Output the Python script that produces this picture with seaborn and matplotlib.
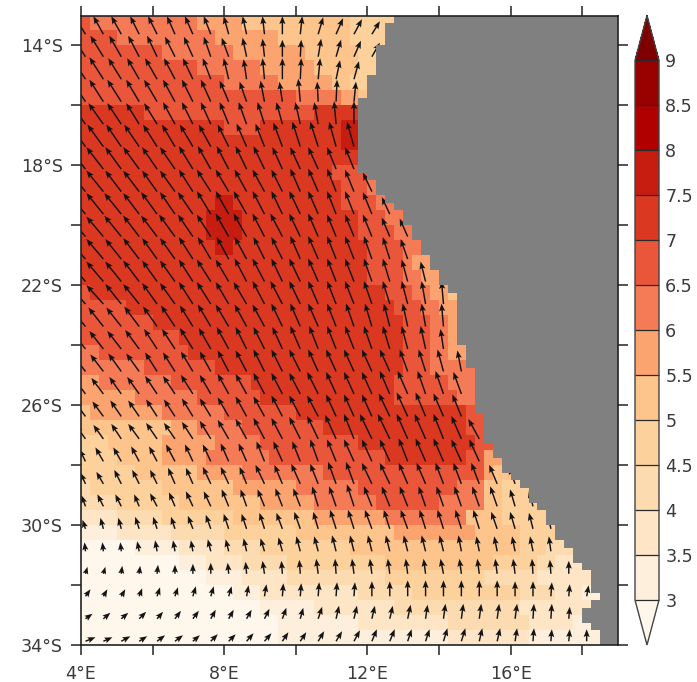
import numpy as np
import pandas as pd
import seaborn as sns
import matplotlib
matplotlib.use("Agg")
import matplotlib.pyplot as plt
from matplotlib.colors import ListedColormap, BoundaryNorm
from matplotlib.cm import ScalarMappable

W, H = 697, 682
LEVELS = [3, 3.5, 4, 4.5, 5, 5.5, 6, 6.5, 7, 7.5, 8, 8.5, 9]
LEVEL_LABELS = ["3", "3.5", "4", "4.5", "5", "5.5", "6", "6.5", "7", "7.5", "8", "8.5", "9"]
COLORS = ["#FEEEDC", "#FDE5C5", "#FDDBB0", "#FDD19C", "#FDC48C", "#FBA46F",
          "#F47B55", "#E9563A", "#DB3822", "#C71C10", "#B10000", "#990000"]
UNDER = "#FFF7EC"
OVER = "#7F0000"
CLASS_VALUE = {"a": 2.75, "b": 3.25, "c": 3.75, "d": 4.25, "e": 4.75, "f": 5.25,
               "g": 5.75, "h": 6.25, "i": 6.75, "j": 7.25, "k": 7.75}

# class letter + last 0.25-degree longitude column, rows every 0.5 degree from 13S
FIELD_ROWS = [
    "i1 h13 g18 f30 e36", "i4 h15 g22 f30 e34", "i9 h17 g25 f31 e33", "i13 h20 g26 f31 e33",
    "i16 h22 g28 f30 e32", "i24 h29 g31 f32", "j7 i26 j32", "j16 i20 j29 k31",
    "j29 k31", "j31", "j28 i32", "j29 i32 h34",
    "j15 k17 j29 i33 h35", "j14 k18 j31 i34 h36 g37", "j14 k18 j31 i35 h37 g38",
    "j15 k17 j32 i36 h38 g39", "j32 i36 h37 g39", "j32 i36 h38 g40 f41",
    "i1 j34 i37 h39 g41 f42", "i5 j35 i38 h40 g42", "i8 j36 i39 h41 g42",
    "i11 j36 i39 h41 g42", "h2 i12 j36 i39 h41 g43", "h7 i15 j36 i39 h43",
    "g2 h10 i19 j35 i41 h44", "g6 h13 i20 j35 i42 h44", "f1 g9 h16 i24 j43 i44",
    "f10 g13 h18 i27 j43 i45", "e3 f9 g15 h20 i31 j44 i45", "e4 f9 g14 h21 i34 j43 i45 g46",
    "e6 f13 g18 h27 i45 g46 f47", "d1 e9 f17 g24 h31 i42 h45 f47 e50",
    "d4 e11 f20 g26 h33 i40 h45 f47 e51", "c4 d9 e17 f26 g34 h43 f47 e52",
    "b4 c10 d16 e24 f35 g44 f49 e53", "a6 b11 c16 d20 e30 f49 e52 d54",
    "a11 b14 c18 d23 e34 f46 e51 d53 c56", "a14 b18 c23 d34 e45 d51 c57",
    "a17 b20 c31 d37 e49 d53 c56 b58", "a20 b26 c35 d49 c55",
    "a22 b31 c41 d50 c55 b57", "a22 b41 c50 b58",
]

# first land column in each 0.25-degree latitude row, from 13S to 34S
COAST_COL = [35, 34, 34, 34, 33, 33, 33, 33, 32, 32, 32, 31, 31, 31, 31, 31, 31, 31, 31, 31, 31,
             32, 33, 33, 34, 35, 36, 36, 37, 37, 38, 38, 39, 39, 40, 40, 41, 42, 42, 42, 42, 42,
             42, 42, 43, 43, 43, 44, 44, 44, 44, 44, 44, 45, 45, 45, 45, 46, 46, 47, 47, 48, 49,
             50, 50, 51, 52, 52, 53, 53, 54, 55, 55, 56, 57, 57, 57, 58, 57, 56, 56, 57, 58, 58]

# wind components per arrow row (north to south), columns every 0.5 degree from 4.125E
U_ROWS = [
    [-11,-10,-10,-9,-9,-8,-8,-7,-5,-4,-2,0,2,5,7,8,8],
    [-14,-13,-12,-11,-10,-10,-9,-7,-7,-4,-2,0,1,3,5,7,8],
    [-15,-14,-13,-12,-12,-11,-10,-8,-5,-3,-2,0,1,2,4,5],
    [-15,-14,-14,-13,-13,-12,-11,-10,-9,-7,-4,-3,-2,-1,1,2],
    [-16,-15,-14,-13,-13,-12,-11,-10,-9,-8,-7,-6,-5,-4,-2,0],
    [-16,-16,-15,-15,-14,-13,-13,-12,-11,-10,-9,-9,-8,-8,-7,-7],
    [-17,-17,-16,-16,-15,-15,-14,-13,-12,-11,-11,-10,-10,-10,-9,-9],
    [-17,-17,-16,-16,-15,-15,-14,-14,-13,-12,-12,-11,-10,-10,-9,-9,-9],
    [-18,-17,-17,-16,-16,-15,-15,-14,-13,-13,-12,-11,-11,-10,-9,-9,-9,-8],
    [-17,-17,-17,-16,-16,-16,-15,-14,-13,-13,-12,-12,-11,-10,-9,-9,-9,-8,-8],
    [-17,-17,-16,-16,-15,-15,-14,-13,-12,-12,-11,-11,-10,-10,-9,-9,-8,-7,-7],
    [-17,-17,-16,-16,-15,-15,-14,-14,-13,-12,-12,-11,-11,-10,-9,-9,-8,-7,-6,-5],
    [-17,-17,-16,-16,-15,-15,-14,-14,-13,-13,-12,-12,-11,-10,-9,-9,-8,-7,-6,-4,-2],
    [-15,-15,-15,-15,-14,-14,-13,-13,-13,-12,-12,-11,-10,-10,-9,-8,-7,-6,-5,-4,-2],
    [-14,-14,-14,-14,-13,-13,-13,-12,-12,-11,-11,-10,-10,-9,-9,-9,-8,-7,-6,-5,-3],
    [-13,-13,-13,-13,-12,-12,-12,-11,-11,-11,-11,-11,-11,-10,-10,-10,-10,-10,-8,-7,-6,-4],
    [-12,-12,-12,-12,-12,-12,-12,-11,-11,-11,-11,-11,-11,-11,-10,-10,-10,-10,-10,-8,-8,-8],
    [-11,-11,-11,-11,-11,-11,-11,-11,-11,-11,-11,-11,-11,-11,-10,-10,-10,-11,-11,-10,-10,-9],
    [-10,-10,-10,-11,-11,-11,-11,-11,-11,-11,-11,-11,-11,-11,-11,-10,-12,-12,-11,-11,-10,-10,-11],
    [-6,-8,-8,-8,-8,-9,-8,-8,-8,-8,-8,-9,-8,-8,-9,-10,-10,-10,-9,-10,-10,-10,-10],
    [-5,-7,-7,-7,-7,-7,-7,-8,-8,-7,-9,-8,-9,-8,-8,-8,-10,-10,-9,-9,-8,-8,-8,-8,-6],
    [-4,-6,-6,-5,-7,-6,-7,-7,-7,-6,-7,-7,-7,-6,-7,-7,-8,-8,-8,-7,-7,-7,-7,-7,-5,-4],
    [-3,-3,-3,-4,-4,-4,-5,-5,-5,-5,-5,-6,-6,-5,-6,-6,-7,-6,-7,-6,-6,-6,-6,-6,-5,-4,-3],
    [-1,-1,-1,-2,-2,-2,-2,-3,-3,-3,-4,-4,-4,-4,-4,-4,-4,-4,-4,-4,-4,-3,-3,-3,-3,-3,-2],
    [2,2,1,1,1,0,0,0,-1,-1,-2,-1,-1,-2,-1,-2,-2,-2,-2,-2,-3,-2,-2,-2,-2,-1,-1,0],
    [5,4,4,3,3,3,3,3,3,2,2,1,1,1,1,1,0,0,0,0,0,0,0,0,0,0,1,1,2],
    [7,7,7,7,6,6,6,5,5,5,5,4,3,4,3,3,3,3,3,2,2,2,2,2,2,1,1,1],
    [10,9,9,8,8,8,7,7,7,7,7,6,6,6,6,6,5,5,4,4,4,4,3,3,2,1,1,1,0],
]
V_ROWS = [
    [18,18,18,18,18,18,18,18,18,18,18,18,18,17,16,15,13],
    [22,21,21,21,21,20,20,20,19,19,18,17,17,18,17,16,14],
    [23,22,21,21,21,21,21,21,21,20,21,21,21,21,19,18],
    [23,22,22,22,22,22,22,22,21,20,21,20,23,20,22,20],
    [22,21,21,21,21,22,22,22,22,22,22,22,22,22,23,23],
    [22,22,22,22,22,22,22,22,22,23,23,24,25,25,25,25],
    [22,22,22,22,22,22,23,23,23,23,23,22,22,22,22,22],
    [21,21,21,21,21,21,22,22,22,22,22,22,23,23,23,22,19],
    [21,21,21,21,22,22,22,23,23,23,23,23,23,23,23,23,22,17],
    [20,20,21,21,21,22,22,22,23,23,23,23,23,23,22,22,22,19,18],
    [19,20,20,21,21,21,22,22,22,22,22,22,23,23,23,23,23,22,20],
    [20,20,20,21,21,21,22,22,22,23,23,23,23,23,23,23,23,23,22,20],
    [19,19,20,20,21,21,22,22,22,22,23,23,23,23,23,23,23,23,23,23,23],
    [18,19,19,20,20,21,21,22,22,22,22,23,23,23,23,23,23,23,23,23,23],
    [18,18,18,19,20,20,21,21,22,22,22,22,23,23,23,23,23,23,23,23,20],
    [17,17,18,18,19,19,20,20,21,21,22,22,22,22,22,22,22,22,22,22,22,21],
    [16,16,17,17,18,18,19,19,20,20,21,21,21,22,22,22,22,23,23,23,23,22],
    [15,15,16,16,17,17,18,18,19,20,20,21,21,21,22,22,22,23,24,24,23,22],
    [14,14,15,15,16,16,17,18,19,20,21,21,22,23,24,25,25,25,25,25,25,23,20],
    [12,14,14,15,15,17,17,17,18,18,20,20,20,22,22,22,22,22,23,23,23,22,22],
    [11,12,14,14,14,16,16,17,17,17,19,19,20,20,22,22,21,21,21,21,21,21,21,19,17],
    [11,12,12,12,13,14,15,15,17,17,17,18,18,20,20,22,20,20,20,20,20,20,20,20,17,16],
    [9,11,11,12,12,12,13,14,15,15,16,16,17,17,19,19,19,19,19,19,19,19,19,17,17,16,15],
    [9,9,9,10,11,11,11,12,12,13,13,14,15,15,16,16,16,16,16,16,16,16,15,15,15,15,15],
    [7,7,8,8,9,9,10,11,11,12,13,13,14,15,15,15,15,15,15,15,15,15,15,15,15,15,14,13],
    [7,7,7,8,9,9,10,10,10,11,12,13,13,14,14,14,15,15,16,16,16,16,16,16,15,15,14,12,11],
    [5,6,6,7,7,8,8,9,9,9,10,11,11,12,13,13,13,13,14,14,15,15,15,15,15,15,15,12],
    [4,4,5,5,6,6,6,7,7,8,8,9,9,10,10,11,12,12,12,12,13,13,13,13,13,13,12,12,12],
]
X_TICKS = [4, 6, 8, 10, 12, 14, 16, 18]
X_LABELS = ["4°E", "", "8°E", "", "12°E", "", "16°E", ""]
Y_TICKS = [14, 16, 18, 20, 22, 24, 26, 28, 30, 32, 34]
Y_LABELS = ["14°S", "", "18°S", "", "22°S", "", "26°S", "", "30°S", "", "34°S"]

# ---- build the gridded tables from the values above
ncol, nrow = 60, 84
field = np.zeros((nrow, ncol))
for r, text in enumerate(FIELD_ROWS):
    start = 0
    vals = np.zeros(ncol)
    for tok in text.split():
        end = int(tok[1:])
        vals[start:end] = CLASS_VALUE[tok[0]]
        last = CLASS_VALUE[tok[0]]
        start = end
    vals[start:] = last
    field[2 * r] = vals
    field[2 * r + 1] = vals
land = np.zeros((nrow, ncol), dtype=bool)
for r, c in enumerate(COAST_COL):
    land[r, c:] = True

lons = 4 + 0.25 * np.arange(ncol)
lats = -13 - 0.25 * np.arange(nrow)
df_field = pd.DataFrame(field, index=lats, columns=lons)
df_land = pd.DataFrame(land.astype(float), index=lats, columns=lons)

recs = []
for t, (us, vs) in enumerate(zip(U_ROWS, V_ROWS)):
    for k, (u, v) in enumerate(zip(us, vs)):
        recs.append((4.125 + 0.5 * k, -13.625 - 0.75 * t, u, v))
arrows = pd.DataFrame(recs, columns=["lon", "lat", "u", "v"])

# ---- figure
sns.set_theme(style="white")
plt.rcParams["font.family"] = ["DejaVu Sans"]
INK = "#222222"
TXT = "#3a3a3a"
FS = 12.6

fig = plt.figure(figsize=(W / 100, H / 100), dpi=100, facecolor="white")
ax = fig.add_axes([81 / W, 1 - 645 / H, (618 - 81) / W, (645 - 15.5) / H])
cmap = ListedColormap(COLORS)
cmap.set_under(UNDER)
cmap.set_over(OVER)
norm = BoundaryNorm(LEVELS, cmap.N)

sns.heatmap(df_field, ax=ax, cmap=cmap, norm=norm, cbar=False,
            xticklabels=False, yticklabels=False)
ax.quiver((arrows.lon - 4) * 4, (-13 - arrows.lat) * 4, arrows.u, arrows.v,
          angles="uv", scale_units="dots", scale=1, units="dots", pivot="tail",
          width=1.45, headwidth=4.2, headlength=5.4, headaxislength=4.6,
          color="#141414", zorder=2)
sns.heatmap(df_land, ax=ax, mask=~land, cmap=ListedColormap(["#808080"]), cbar=False,
            xticklabels=False, yticklabels=False)
ax.collections[-1].set_zorder(3)

ax.set_xlim(0, ncol)
ax.set_ylim(nrow, 0)
ax.set_xticks([(v - 4) * 4 for v in X_TICKS])
ax.set_xticklabels(X_LABELS, fontsize=FS, color=TXT)
ax.set_yticks([(v - 13) * 4 for v in Y_TICKS])
ax.set_yticklabels(Y_LABELS, fontsize=FS, color=TXT, rotation=0)
ax.set_xlabel("")
ax.set_ylabel("")
ax.tick_params(axis="both", which="major", direction="out", length=7.2, width=1.1,
               color=INK, top=True, right=True, bottom=True, left=True)
ax.tick_params(axis="x", pad=7)
ax.tick_params(axis="y", pad=6)
for s in ax.spines.values():
    s.set_visible(True)
    s.set_linewidth(1.2)
    s.set_color(INK)
    s.set_zorder(6)

cax = fig.add_axes([635 / W, 1 - 645 / H, (659 - 635) / W, (645 - 15.5) / H])
cb = fig.colorbar(ScalarMappable(norm=norm, cmap=cmap), cax=cax, extend="both",
                  extendfrac=45 / 540, spacing="uniform", drawedges=True,
                  ticks=LEVELS)
cb.ax.set_yticklabels(LEVEL_LABELS, fontsize=FS, color=TXT)
cb.ax.tick_params(length=0, pad=4.5)
cb.ax.minorticks_off()
cb.outline.set_edgecolor("#444444")
cb.outline.set_linewidth(1.0)
cb.dividers.set_color("#2a2a2a")
cb.dividers.set_linewidth(0.9)

fig.savefig("out.png", dpi=100, facecolor="white")
